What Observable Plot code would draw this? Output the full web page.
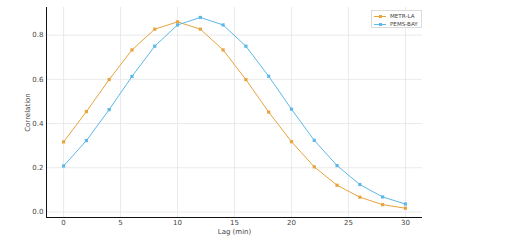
<!DOCTYPE html>
<html>
<head>
<meta charset="utf-8">
<script src="https://cdn.jsdelivr.net/npm/d3@7"></script>
<script src="https://cdn.jsdelivr.net/npm/@observablehq/plot@0.6"></script>
<style>
  html, body { margin: 0; padding: 0; background: #fff; }
  #wrap { position: relative; width: 509px; height: 242px; font-family: "DejaVu Sans", sans-serif; }
  #legend { position: absolute; left: 371px; top: 10px; width: 51px; height: 18px; border: 1px solid #dcdcdc; background: #fff; box-sizing: border-box; font-size: 5.6px; color: #444; }
  .item { position: absolute; left: 2px; height: 8px; display: flex; align-items: center; }
  .sw { position: relative; width: 12px; height: 8px; margin-right: 4px; }
  .sw .ln { position: absolute; left: 0; top: 3.5px; width: 12px; height: 1px; }
  .sw .mk { position: absolute; left: 4.5px; top: 2.5px; width: 3px; height: 3px; }
</style>
</head>
<body>
<div id="wrap"></div>
<script>
const lags = [0, 2, 4, 6, 8, 10, 12, 14, 16, 18, 20, 22, 24, 26, 28, 30];
const metrLA = [0.317, 0.454, 0.599, 0.733, 0.827, 0.860, 0.827, 0.733, 0.599, 0.452, 0.318, 0.204, 0.121, 0.067, 0.033, 0.017];
const pemsBay = [0.208, 0.323, 0.463, 0.613, 0.750, 0.846, 0.880, 0.846, 0.750, 0.614, 0.465, 0.324, 0.210, 0.124, 0.068, 0.036];
const seriesNames = ["METR-LA", "PEMS-BAY"];
const seriesColors = ["#E8A33D", "#5DB8E8"];
const xTicks = [0, 5, 10, 15, 20, 25, 30];
const yTicks = [0.0, 0.2, 0.4, 0.6, 0.8];

const data = [];
lags.forEach((l, i) => {
  data.push({lag: l, value: metrLA[i], series: seriesNames[0]});
  data.push({lag: l, value: pemsBay[i], series: seriesNames[1]});
});

const chart = Plot.plot({
  width: 509,
  height: 242,
  marginLeft: 46,
  marginRight: 87,
  marginTop: 7,
  marginBottom: 25,
  style: {fontFamily: "DejaVu Sans, sans-serif", fontSize: "7px", color: "#444", background: "#fff"},
  x: {domain: [-1.5, 31.5]},
  y: {domain: [-0.025, 0.925]},
  color: {domain: seriesNames, range: seriesColors},
  marks: [
    Plot.gridX(xTicks, {stroke: "#e4e4e4", strokeOpacity: 1, strokeWidth: 0.8}),
    Plot.gridY(yTicks, {stroke: "#e4e4e4", strokeOpacity: 1, strokeWidth: 0.8}),
    Plot.axisX(xTicks, {tickSize: 0, tickPadding: 3, label: "Lag (min)", labelAnchor: "center", labelOffset: 16, labelArrow: "none", fill: "#444"}),
    Plot.axisY(yTicks, {tickSize: 0, tickPadding: 3, tickFormat: d3.format(".1f"), label: "Correlation", labelAnchor: "center", labelOffset: 21, labelArrow: "none", fill: "#444"}),
    Plot.line(data, {x: "lag", y: "value", stroke: "series", z: "series", strokeWidth: 1}),
    Plot.dot(data, {x: "lag", y: "value", fill: "series", symbol: "square", r: 1.8}),
    Plot.ruleX([-1.5], {stroke: "#111", strokeWidth: 1}),
    Plot.ruleY([-0.025], {stroke: "#111", strokeWidth: 1})
  ]
});

const wrap = document.getElementById("wrap");
wrap.appendChild(chart);

const legend = document.createElement("div");
legend.id = "legend";
seriesNames.forEach((name, i) => {
  const item = document.createElement("div");
  item.className = "item";
  item.style.top = (1 + i * 8) + "px";
  item.innerHTML = `<span class="sw"><span class="ln" style="background:${seriesColors[i]}"></span><span class="mk" style="background:${seriesColors[i]}"></span></span><span>${name}</span>`;
  legend.appendChild(item);
});
wrap.appendChild(legend);
</script>
</body>
</html>
